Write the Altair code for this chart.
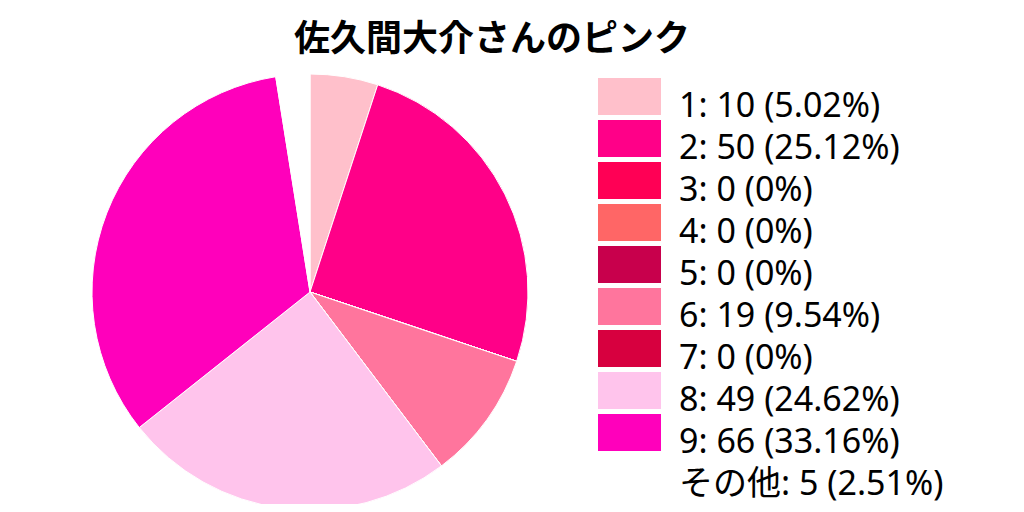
import altair as alt
import pandas as pd
import math

categories = ["1", "2", "3", "4", "5", "6", "7", "8", "9", "その他"]
values = [10, 50, 0, 0, 0, 19, 0, 49, 66, 5]
colors = ["#FFC0CB", "#FF0088", "#FF0055", "#FF6666", "#C8004C",
          "#FF759D", "#D7003F", "#FFC4EC", "#FF00BB", "#FFFFFF"]
title_text = "佐久間大介さんのピンク"

total = sum(values)


def pct(v):
    p = math.floor(v / total * 10000 + 1e-9) / 100
    s = ("%.2f" % p).rstrip("0").rstrip(".")
    return s


df = pd.DataFrame({
    "cat": categories,
    "value": values,
    "idx": list(range(len(categories))),
    "label": [f"{c}: {v} ({pct(v)}%)" for c, v in zip(categories, values)],
})

font = "Noto Sans, Noto Sans CJK JP"
title_font = "Noto Sans CJK JP"
color = alt.Color("cat:N", scale=alt.Scale(domain=categories, range=colors), legend=None)

base = alt.Chart(df)

pie = base.mark_arc(outerRadius=218, stroke="white", strokeWidth=1).encode(
    theta=alt.Theta("value:Q", stack=True),
    order=alt.Order("idx:Q"),
    color=color,
    x=alt.value(302),
    y=alt.value(224),
)

yscale = alt.Scale(domain=categories, range=[7.5, 427.5], paddingInner=5 / 42, paddingOuter=2.5 / 42)

swatch = base.mark_rect().encode(
    x=alt.value(590),
    x2=alt.value(653),
    y=alt.Y("cat:N", scale=yscale, axis=None, sort=categories),
    color=color,
)

labels = base.mark_text(align="left", baseline="middle", dy=10, fontSize=34, font=font, color="black").encode(
    x=alt.value(671),
    y=alt.Y("cat:N", scale=yscale, axis=None, sort=categories, bandPosition=0.5),
    text="label:N",
)

chart = alt.layer(pie, swatch, labels).properties(
    width=1008,
    height=436,
    padding={"top": 60, "left": 0, "right": 0, "bottom": 0},
    autosize=alt.AutoSizeParams(type="none"),
    title=alt.TitleParams(title_text, fontSize=36, font=title_font, fontWeight="bold", dx=-20, offset=9,
                          anchor="middle", color="black"),
).configure_view(stroke=None)

chart.save("out.html", embed_options={"renderer": "svg", "actions": False})
